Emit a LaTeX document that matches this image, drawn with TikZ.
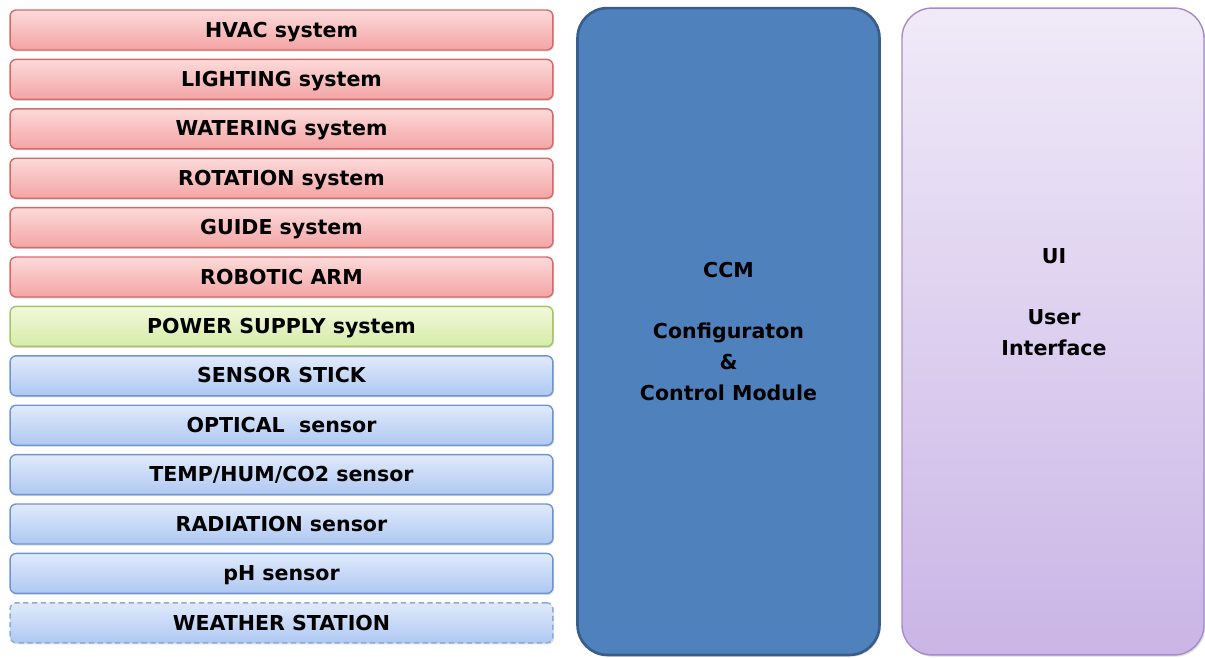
\documentclass[tikz,border=0pt]{standalone}
\usepackage{fontspec}
\setmainfont{DejaVu Sans}
\usepackage{tikz}
\usetikzlibrary{positioning,shadows}

\definecolor{sysred}{HTML}{D46A6A}
\definecolor{sysredtop}{HTML}{FCDADA}
\definecolor{sysredbot}{HTML}{F4A4A4}
\definecolor{sysgreen}{HTML}{A6C46A}
\definecolor{sysgreentop}{HTML}{F1F9DA}
\definecolor{sysgreenbot}{HTML}{D6EBA8}
\definecolor{sysblue}{HTML}{6E95D2}
\definecolor{sysbluetop}{HTML}{E0EAFB}
\definecolor{sysbluebot}{HTML}{AEC8F2}
\definecolor{ccmfill}{HTML}{4F81BD}
\definecolor{ccmline}{HTML}{385D8A}
\definecolor{uiline}{HTML}{A58CC9}
\definecolor{uitop}{HTML}{F0EAF8}
\definecolor{uibot}{HTML}{CAB5E6}

\tikzset{
	sysbox/.style={rounded corners=3.5pt, minimum width=10.86cm, minimum height=0.8cm, inner sep=0pt, line width=0.8pt,
		drop shadow={shadow xshift=0.6pt, shadow yshift=-0.9pt, opacity=0.25}},
	redbox/.style={sysbox, draw=sysred, top color=sysredtop, bottom color=sysredbot},
	greenbox/.style={sysbox, draw=sysgreen, top color=sysgreentop, bottom color=sysgreenbot},
	bluebox/.style={sysbox, draw=sysblue, top color=sysbluetop, bottom color=sysbluebot},
	dashbox/.style={bluebox, draw=sysblue!80, dash pattern=on 3pt off 2pt},
	modbox/.style={rounded corners=17pt, minimum width=6.04cm, minimum height=12.94cm, inner sep=0pt,
		drop shadow={shadow xshift=0.8pt, shadow yshift=-1pt, opacity=0.25}}
}

\begin{document}
\begin{tikzpicture}[x=0.02cm, y=-0.02cm, font=\bfseries\fontsize{11.7}{17.4}\selectfont]
\useasboundingbox (0,0) rectangle (1205,657);

% ---- subsystems ----
\foreach \name/\sty/\txt [count=\i from 0] in {
	hvac/redbox/HVAC system,
	lighting/redbox/LIGHTING system,
	watering/redbox/WATERING system,
	rotation/redbox/ROTATION system,
	guide/redbox/GUIDE system,
	arm/redbox/ROBOTIC ARM,
	power/greenbox/POWER SUPPLY system,
	stick/bluebox/SENSOR STICK,
	optical/bluebox/OPTICAL~ sensor,
	temp/bluebox/{TEMP/HUM/CO2 sensor},
	radiation/bluebox/RADIATION sensor,
	ph/bluebox/pH sensor,
	weather/dashbox/WEATHER STATION}
	\node[\sty, text depth=0.5pt] (\name) at (281.5,{30+49.4*\i}) {\txt};

% ---- modules ----
\node[modbox, draw=ccmline, line width=1.5pt, fill=ccmfill, align=center] (ccm) at (728.5,331.5)
	{CCM\\[17.4pt]Configuraton\\\&\\Control Module};
\node[modbox, draw=uiline, line width=0.8pt, top color=uitop, bottom color=uibot] (ui) at (1053,331.5) {};
\node[align=center] (uitext) at (1054,302) {UI\\[17.4pt]User\\Interface};
\end{tikzpicture}
\end{document}
